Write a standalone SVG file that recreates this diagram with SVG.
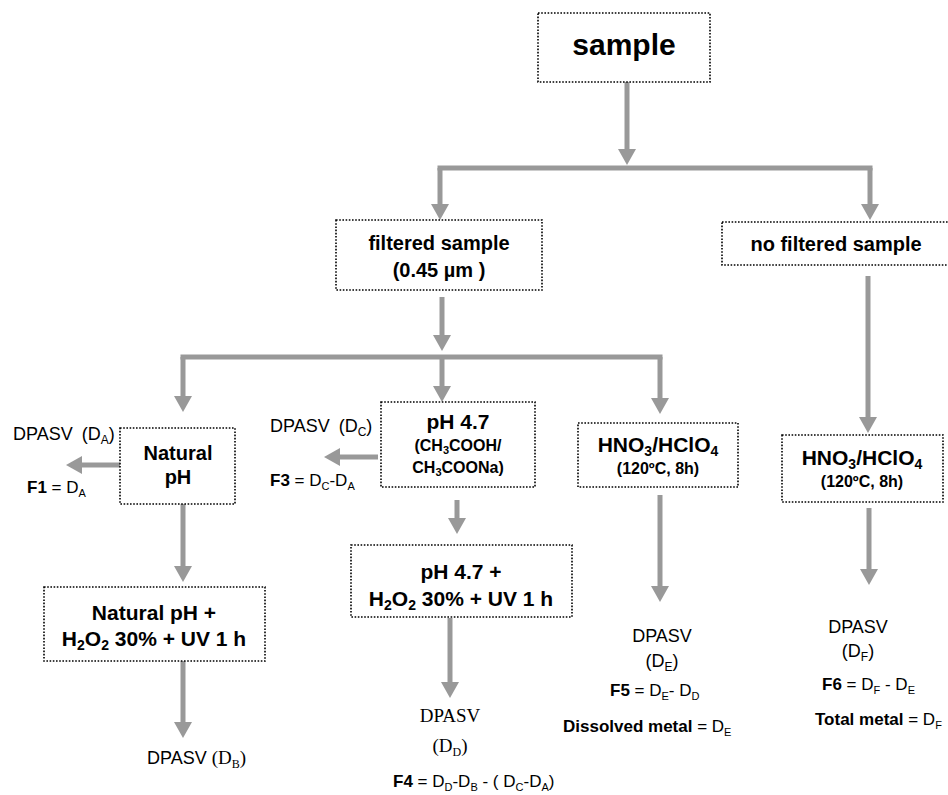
<svg xmlns="http://www.w3.org/2000/svg" width="948" height="795" viewBox="0 0 948 795">
<style>
.box{fill:#fff;stroke:#000;stroke-width:1.6;stroke-dasharray:1.6 1.6}
.b{font-family:"Liberation Sans",Arial,sans-serif;font-weight:bold;fill:#000}
.r{font-family:"Liberation Sans",Arial,sans-serif;fill:#000}
.s{font-family:"Liberation Serif","Times New Roman",serif;fill:#000}
.c{text-anchor:middle}
.conn path{fill:none;stroke:#999;stroke-width:5;marker-end:url(#ah)}
.conn line{stroke:#999;stroke-width:5}
</style>
<defs>
<marker id="ah" markerUnits="userSpaceOnUse" viewBox="0 0 16 18" markerWidth="16" markerHeight="18" refX="8" refY="9" orient="auto">
<path d="M0,0 L16,9 L0,18 Z" fill="#999"/>
</marker>
</defs>
<rect width="948" height="795" fill="#fff"/>
<g class="conn" id="connectors">
<path d="M627,82 V157"/>
<line x1="437.5" y1="168" x2="872.5" y2="168"/>
<path d="M440,168 V212"/>
<path d="M870,168 V212"/>
<path d="M442,297 V343"/>
<line x1="180.5" y1="357" x2="662.5" y2="357"/>
<path d="M183,357 V404"/>
<path d="M442,357 V394"/>
<path d="M660,357 V406"/>
<path d="M120,465 H74"/>
<path d="M183,504 V574"/>
<path d="M183,661 V730"/>
<path d="M378,457 H332"/>
<path d="M457,500 V526"/>
<path d="M450,618 V690"/>
<path d="M660,495 V594"/>
<path d="M868,276 V425"/>
<path d="M869,508 V577"/>
</g>
<g id="n-sample">
<rect class="box" x="538" y="13" width="172" height="69"/>
<text class="b c" x="624" y="55" font-size="30">sample</text>
</g>
<g id="n-filtered">
<rect class="box" x="336" y="220" width="206" height="70"/>
<text class="b c" x="439" y="250" font-size="20">filtered sample</text>
<text class="b c" x="439" y="277" font-size="20">(0.45 µm )</text>
</g>
<g id="n-nofiltered">
<rect class="box" x="722" y="222" width="230" height="43"/>
<text class="b c" x="836" y="251" font-size="20">no filtered sample</text>
</g>
<g id="n-natural">
<rect class="box" x="120" y="428" width="115" height="76"/>
<text class="b c" x="178" y="460" font-size="20">Natural</text>
<text class="b c" x="178" y="484" font-size="20">pH</text>
</g>
<g id="n-da">
<text class="r" x="13" y="440" font-size="18">DPASV<tspan dx="9">(D</tspan><tspan font-size="12" dy="4">A</tspan><tspan dy="-4">)</tspan></text>
<text class="r" x="27" y="493" font-size="17"><tspan class="b">F1</tspan> = D<tspan font-size="11" dy="4">A</tspan></text>
</g>
<g id="n-ph47">
<rect class="box" x="381" y="402" width="154" height="85"/>
<text class="b c" x="458" y="429" font-size="21">pH 4.7</text>
<text class="b c" x="458" y="451" font-size="16">(CH<tspan font-size="11" dy="3">3</tspan><tspan dy="-3">COOH/</tspan></text>
<text class="b c" x="458" y="473" font-size="16">CH<tspan font-size="11" dy="3">3</tspan><tspan dy="-3">COONa)</tspan></text>
</g>
<g id="n-dc">
<text class="r" x="270" y="432" font-size="18">DPASV<tspan dx="9">(D</tspan><tspan font-size="12" dy="4">C</tspan><tspan dy="-4">)</tspan></text>
<text class="r" x="270" y="486" font-size="17"><tspan class="b">F3</tspan> = D<tspan font-size="11" dy="4">C</tspan><tspan dy="-4">-D</tspan><tspan font-size="11" dy="4">A</tspan></text>
</g>
<g id="n-hno3-left">
<rect class="box" x="578" y="423" width="160" height="64"/>
<text class="b c" x="658" y="452" font-size="21">HNO<tspan font-size="14" dy="4">3</tspan><tspan dy="-4">/HClO</tspan><tspan font-size="14" dy="4">4</tspan></text>
<text class="b c" x="658" y="474" font-size="16">(120ºC, 8h)</text>
</g>
<g id="n-hno3-right">
<rect class="box" x="782" y="435" width="161" height="67"/>
<text class="b c" x="862" y="465" font-size="21">HNO<tspan font-size="14" dy="4">3</tspan><tspan dy="-4">/HClO</tspan><tspan font-size="14" dy="4">4</tspan></text>
<text class="b c" x="862" y="487" font-size="16">(120ºC, 8h)</text>
</g>
<g id="n-ph47-uv">
<rect class="box" x="351" y="545" width="221" height="72"/>
<text class="b c" x="461" y="579" font-size="21">pH 4.7 +</text>
<text class="b c" x="461" y="606" font-size="21">H<tspan font-size="14" dy="4">2</tspan><tspan dy="-4">O</tspan><tspan font-size="14" dy="4">2</tspan><tspan dy="-4"> 30% + UV 1 h</tspan></text>
</g>
<g id="n-natural-uv">
<rect class="box" x="44" y="587" width="221" height="74"/>
<text class="b c" x="154" y="620" font-size="21">Natural pH +</text>
<text class="b c" x="154" y="646" font-size="21">H<tspan font-size="14" dy="4">2</tspan><tspan dy="-4">O</tspan><tspan font-size="14" dy="4">2</tspan><tspan dy="-4"> 30% + UV 1 h</tspan></text>
</g>
<g id="n-db">
<text class="r" x="147" y="764" font-size="18">DPASV <tspan class="s" font-size="19">(D</tspan><tspan class="s" font-size="12" dy="4">B</tspan><tspan class="s" font-size="19" dy="-4">)</tspan></text>
</g>
<g id="n-dd">
<text class="s c" x="450" y="722" font-size="19">DPASV</text>
<text class="s c" x="450" y="752" font-size="19">(D<tspan font-size="12" dy="4">D</tspan><tspan dy="-4">)</tspan></text>
<text class="r" x="393" y="787" font-size="17"><tspan class="b">F4</tspan> = D<tspan font-size="11" dy="4">D</tspan><tspan dy="-4">-D</tspan><tspan font-size="11" dy="4">B</tspan><tspan dy="-4"> - ( D</tspan><tspan font-size="11" dy="4">C</tspan><tspan dy="-4">-D</tspan><tspan font-size="11" dy="4">A</tspan><tspan dy="-4">)</tspan></text>
</g>
<g id="n-de">
<text class="r c" x="662" y="642" font-size="18">DPASV</text>
<text class="r c" x="662" y="667" font-size="18">(D<tspan font-size="12" dy="4">E</tspan><tspan dy="-4">)</tspan></text>
<text class="r" x="610" y="696" font-size="17"><tspan class="b">F5</tspan> = D<tspan font-size="11" dy="4">E</tspan><tspan dy="-4">- D</tspan><tspan font-size="11" dy="4">D</tspan></text>
<text class="r" x="563" y="732" font-size="17"><tspan class="b">Dissolved metal</tspan> = D<tspan font-size="11" dy="4">E</tspan></text>
</g>
<g id="n-df">
<text class="r c" x="858" y="633" font-size="18">DPASV</text>
<text class="r c" x="858" y="657" font-size="18">(D<tspan font-size="12" dy="4">F</tspan><tspan dy="-4">)</tspan></text>
<text class="r" x="822" y="690" font-size="17"><tspan class="b">F6</tspan> = D<tspan font-size="11" dy="4">F</tspan><tspan dy="-4"> - D</tspan><tspan font-size="11" dy="4">E</tspan></text>
<text class="r" x="815" y="725" font-size="17"><tspan class="b">Total metal</tspan> = D<tspan font-size="11" dy="4">F</tspan></text>
</g>
</svg>
